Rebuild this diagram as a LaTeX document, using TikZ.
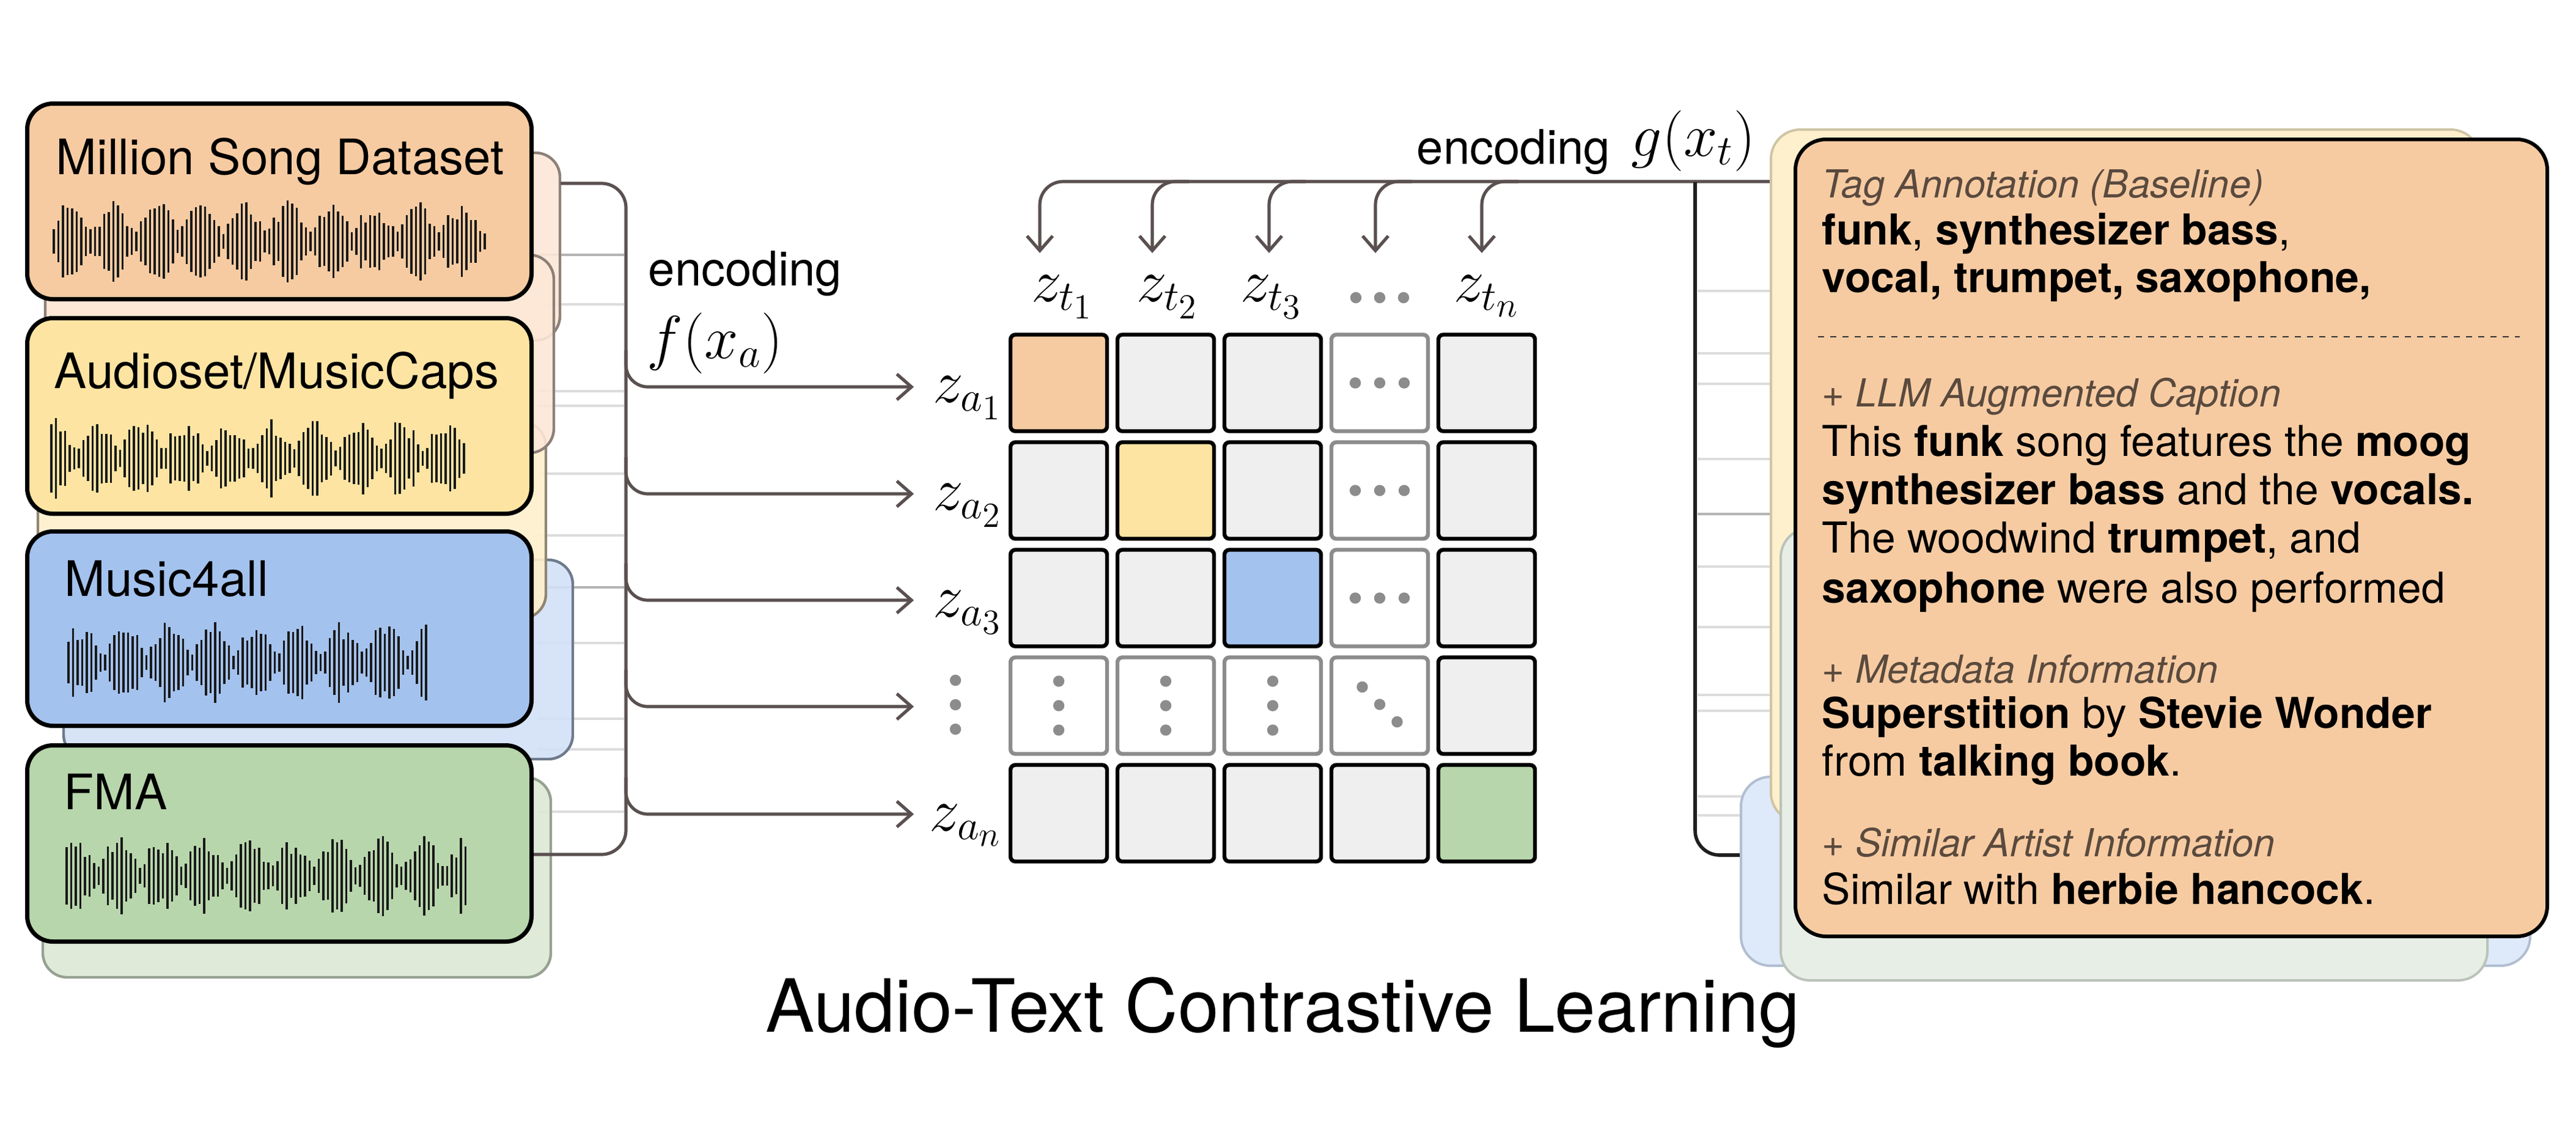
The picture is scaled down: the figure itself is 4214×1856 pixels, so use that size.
\documentclass[tikz,border=0pt]{standalone}
\usepackage[no-math]{fontspec}
\setmainfont{TeX Gyre Heros}
\usetikzlibrary{arrows.meta}
\definecolor{peach}{HTML}{F7CBA2}
\definecolor{yel}{HTML}{FDE4A2}
\definecolor{blu}{HTML}{A4C2EE}
\definecolor{grn}{HTML}{B8D6AC}
\definecolor{cellgray}{HTML}{EFEFEF}
\definecolor{dotgray}{HTML}{8C8C8C}
\definecolor{conncol}{HTML}{5A5050}
\definecolor{hdr}{HTML}{5A4A3E}
\definecolor{lline}{HTML}{DCDCDC}
\definecolor{dline}{HTML}{B4B4B4}
\definecolor{shOr}{HTML}{FDE7D7}
\definecolor{shOrB}{HTML}{8C8078}
\definecolor{shYe}{HTML}{FEF0CD}
\definecolor{shYeB}{HTML}{8F8672}
\definecolor{shBl}{HTML}{D3E1F6}
\definecolor{shBlB}{HTML}{6E7B8C}
\definecolor{shGr}{HTML}{DCE8D5}
\definecolor{shGrB}{HTML}{97A192}
\definecolor{rYe}{HTML}{FEF0CC}
\definecolor{rYeB}{HTML}{CFC5A5}
\definecolor{rGg}{HTML}{E7EEE6}
\definecolor{rGgB}{HTML}{BBC2BA}
\definecolor{rBl}{HTML}{DEE9FA}
\definecolor{rBlB}{HTML}{B2BED0}
\newcommand\mywave[4]{%
  \pgfmathsetseed{#4}%
  \foreach \i in {0,...,#2}{%
    \pgfmathsetmacro\hh{64*(0.16+0.84*abs(sin(\i*19+#4*7)))*(0.5+0.5*rnd)+4}%
    \draw[wavebar] ({#1+7.5*\i},{#3-\hh}) -- ({#1+7.5*\i},{#3+\hh});
  }%
}
\begin{document}
\begin{tikzpicture}[x=0.25pt,y=-0.25pt,
  conn/.style={draw=conncol, line width=1.3pt},
  tipc/.style={-{Straight Barb[length=6pt,width=10.5pt]}},
  wavebar/.style={draw=black!90, line width=0.9pt},
  dbox/.style={draw=black, line width=1.75pt, rounded corners=10.5pt, minimum width=206.25pt, inner sep=0pt},
  shadowL/.style={line width=1.1pt, rounded corners=10pt, fill opacity=0.9},
  shadowR/.style={line width=1pt, rounded corners=12pt},
  cellbase/.style={line width=1.6pt, rounded corners=2pt, minimum size=39.5pt, inner sep=0pt},
  cgray/.style={cellbase, draw=black, fill=cellgray},
  cpeach/.style={cellbase, draw=black, fill=peach},
  cyel/.style={cellbase, draw=black, fill=yel},
  cblue/.style={cellbase, draw=black, fill=blu},
  cgreen/.style={cellbase, draw=black, fill=grn},
  cdot/.style={cellbase, draw=dotgray, fill=white},
  gdot/.style={fill=dotgray, draw=none},
  lbl/.style={anchor=base west, inner sep=0pt, font=\fontsize{20pt}{24pt}\selectfont},
  mth/.style={inner sep=0pt, font=\fontsize{27pt}{30pt}\selectfont},
  enc/.style={anchor=base west, inner sep=0pt, font=\fontsize{19.5pt}{23pt}\selectfont},
  body/.style={anchor=base west, inner sep=0pt, font=\fontsize{17.4pt}{21pt}\selectfont},
  head/.style={anchor=base west, inner sep=0pt, text=hdr, font=\fontsize{15.8pt}{19pt}\selectfont},
  lgl/.style={draw=lline, line width=1pt},
  dgl/.style={draw=dline, line width=1pt}
]
\useasboundingbox (0,0) rectangle (4214,1856);

% ---------- light card lines (left) ----------
\foreach \yy in {498,640,664,775,876,1052,1176,1226,1328} \draw[lgl] (880,\yy) -- (1021,\yy);
\foreach \yy in {417,961} \draw[dgl] (880,\yy) -- (1021,\yy);

% ---------- left shadow cards ----------
\draw[shadowL, fill=shBl, draw=shBlB] (104,916) rectangle (937,1242);
\draw[shadowL, fill=shYe, draw=shYeB] (62,690) rectangle (893,1012);
\draw[shadowL, fill=shOr, draw=shOrB] (74,250) rectangle (916,557);
\draw[shadowL, fill=shOr, draw=shOrB] (74,417) rectangle (906,741);
\draw[shadowL, fill=shGr, draw=shGrB] (70,1272) rectangle (901,1599);

% ---------- left bracket ----------
\coordinate (bt) at (917,300);
\coordinate (bb) at (873,1398);
\draw[conn, rounded corners=10pt] (bt) -- (1024,300) -- (1024,1398) -- (bb);

% ---------- datasets ----------
\node[dbox, fill=peach, minimum height=80pt] (msd) at (457,329.5) {};
\node[dbox, fill=yel, minimum height=80pt] (aud) at (457,680.5) {};
\node[dbox, fill=blu, minimum height=79.5pt] (m4a) at (457,1028.5) {};
\node[dbox, fill=grn, minimum height=80.25pt] (fma) at (457,1380) {};
\node[lbl] (msdl) at (91,285) {Million Song Dataset};
\node[lbl] (audl) at (88,635) {Audioset/MusicCaps};
\node[lbl] (m4al) at (105,975) {Music4all};
\node[lbl] (fmal) at (104,1324) {FMA};
\mywave{88}{94}{395}{3}
\mywave{84}{90}{750}{11}
\mywave{112}{78}{1084}{5}
\mywave{109}{87}{1433}{8}

% ---------- encoding f ----------
\node[enc] (encf) at (1060,467) {encoding};
\node[mth, anchor=base west] (fxa) at (1058,586) {$f(x_a)$};

% ---------- matrix ----------
\foreach \r/\c/\st in {0/0/cpeach,0/1/cgray,0/2/cgray,0/3/cdot,0/4/cgray,
  1/0/cgray,1/1/cyel,1/2/cgray,1/3/cdot,1/4/cgray,
  2/0/cgray,2/1/cgray,2/2/cblue,2/3/cdot,2/4/cgray,
  3/0/cdot,3/1/cdot,3/2/cdot,3/3/cdot,3/4/cgray,
  4/0/cgray,4/1/cgray,4/2/cgray,4/3/cgray,4/4/cgreen}
  \node[\st] (c\r\c) at ({1732+175*\c},{626.5+176*\r}) {};
% dots in cells
\foreach \r in {0,1,2}
  \foreach \dx in {-40,0,40}
    \fill[gdot] ({2257+\dx},{626.5+176*\r}) circle[radius=2.3pt];
\foreach \c in {0,1,2}
  \foreach \dy in {-40,0,40}
    \fill[gdot] ({1732+175*\c},{1154.5+\dy}) circle[radius=2.3pt];
\foreach \d in {-28.5,0,28.5}
  \fill[gdot] ({2257+\d},{1152.5+\d}) circle[radius=2.3pt];

% row labels
\node[mth, anchor=base east] (za1) at (1640,658) {$z_{a_1}$};
\node[mth, anchor=base east] (za2) at (1640,834) {$z_{a_2}$};
\node[mth, anchor=base east] (za3) at (1640,1009) {$z_{a_3}$};
\node[mth, anchor=base east] (zan) at (1640,1359) {$z_{a_n}$};
\coordinate (zad) at (1563,1153);
\foreach \dy in {-40,0,40} \fill[gdot] (1563,{1153+\dy}) circle[radius=2.3pt];

% column labels
\node[mth, anchor=base] (zt1) at (1738,493) {$z_{t_1}$};
\node[mth, anchor=base] (zt2) at (1910,493) {$z_{t_2}$};
\node[mth, anchor=base] (zt3) at (2080,493) {$z_{t_3}$};
\node[mth, anchor=base] (ztn) at (2432,493) {$z_{t_n}$};
\foreach \dx in {-39,0,39} \fill[gdot] ({2257+\dx},487) circle[radius=2.3pt];

% arrows to rows
\foreach \yy in {633,808,982,1156,1332}
  \draw[conn, tipc, rounded corners=9pt] (1024,{\yy-60}) -- (1024,\yy) -- (1495,\yy);

% ---------- top encoding g ----------
\coordinate (gend) at (2895,297);
\draw[conn, tipc, rounded corners=9.5pt] (gend) -- (1701,297) -- (1701,414);
\foreach \xx in {1885,2076,2250,2424}
  \draw[conn, tipc, rounded corners=9.5pt] ({\xx+60},297) -- (\xx,297) -- (\xx,414);
\node[enc] (encg) at (2317,268) {encoding};
\node[mth, anchor=base west] (gxt) at (2668,255) {$g(x_t)$};

% ---------- right side lines and bracket ----------
\foreach \yy in {476,578,628,751,927,1026,1137,1163,1303,1334} \draw[lgl] (2777,\yy) -- (2895,\yy);
\draw[dgl] (2777,841) -- (2895,841);
\coordinate (rb) at (2848,1399);
\draw[draw=black!88, line width=1.4pt, rounded corners=10pt] (2773,298) -- (2773,1399) -- (rb);

% ---------- right cards ----------
\draw[shadowR, fill=rBl, draw=rBlB] (2848,1271) rectangle (4139,1580);
\draw[shadowR, fill=rYe, draw=rYeB] (2897,212) rectangle (4057,1345);
\draw[shadowR, fill=rGg, draw=rGgB] (2913,864) rectangle (4069,1604);
\node[draw=black, line width=1.5pt, rounded corners=12.5pt, fill=peach,
  minimum width=307.5pt, minimum height=326pt, inner sep=0pt] (txt) at (3552,880) {};

\node[head] (h1) at (2980,323) {\itshape Tag Annotation (Baseline)};
\node[body] (l1) at (2980,400) {\textbf{funk}, \textbf{synthesizer bass},};
\node[body] (l2) at (2980,478) {\textbf{vocal, trumpet, saxophone,}};
\draw[draw=black!80, line width=0.5pt, dash pattern=on 2.5pt off 2.5pt] (2974,551) -- (4122,551);
\node[head] (h2) at (2980,665) {+ \itshape LLM Augmented Caption};
\node[body] (l3) at (2980,746) {This \textbf{funk} song features the \textbf{moog}};
\node[body] (l4) at (2980,825) {\textbf{synthesizer bass} and the \textbf{vocals.}};
\node[body] (l5) at (2980,904) {The woodwind \textbf{trumpet}, and};
\node[body] (l6) at (2980,986) {\textbf{saxophone} were also performed};
\node[head] (h3) at (2980,1117) {+ \itshape Metadata Information};
\node[body] (l7) at (2980,1191) {\textbf{Superstition} by \textbf{Stevie Wonder}};
\node[body] (l8) at (2980,1269) {from \textbf{talking book}.};
\node[head] (h4) at (2980,1401) {+ \itshape Similar Artist Information};
\node[body] (l9) at (2980,1479) {Similar with \textbf{herbie hancock}.};

% ---------- title ----------
\node[anchor=base, inner sep=0pt, font=\fontsize{30pt}{36pt}\selectfont] (title) at (2098,1688) {Audio-Text Contrastive Learning};
\end{tikzpicture}
\end{document}
